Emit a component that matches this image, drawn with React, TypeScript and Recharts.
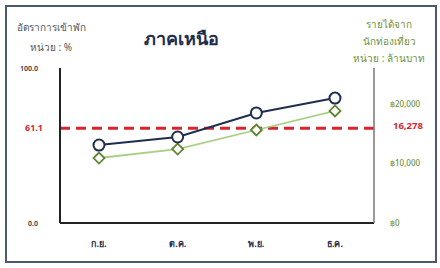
import React from "react";
import {
  ComposedChart,
  Line,
  XAxis,
  YAxis,
  ReferenceLine,
} from "recharts";

const months = ["ก.ย.", "ต.ค.", "พ.ย.", "ธ.ค."];
const occupancy = [50.3, 55.5, 71.0, 80.6];
const revenue = [10900, 12400, 15600, 18800];
const occupancyAvg = 61.1;
const revenueAvg = 16278;
const leftTicks = [0, occupancyAvg, 100];
const rightTicks = [0, 10000, revenueAvg, 20000];

const data = months.map((m, i) => ({ month: m, occ: occupancy[i], rev: revenue[i] }));

const NAVY = "#1f2d4e";
const GREEN_LINE = "#a9cf85";
const GREEN_DARK = "#5e8430";
const GREEN_TEXT = "#6f9140";
const RED = "#d8262f";
const FONT = "'Noto Sans', 'Open Sans', sans-serif";

const LeftTick = (props: any) => {
  const { x, y, payload } = props;
  const isAvg = payload.value === occupancyAvg;
  return (
    <text
      x={x - (isAvg ? 9 : 14)}
      y={y}
      dy={3}
      textAnchor="end"
      fontSize={isAvg ? 9 : 7}
      fontWeight={isAvg ? 700 : 600}
      fill={isAvg ? RED : "#333"}
      fontFamily={FONT}
    >
      {payload.value.toFixed(1)}
    </text>
  );
};

const RightTick = (props: any) => {
  const { x, y, payload } = props;
  const isAvg = payload.value === revenueAvg;
  return (
    <text
      x={x + (isAvg ? 11 : 8)}
      y={y}
      dy={3}
      textAnchor="start"
      fontSize={isAvg ? 9.5 : 8}
      fontWeight={isAvg ? 700 : 500}
      fill={isAvg ? RED : GREEN_TEXT}
      fontFamily={FONT}
    >
      {isAvg ? payload.value.toLocaleString("en-US") : `฿${payload.value.toLocaleString("en-US")}`}
    </text>
  );
};

const MonthTick = (props: any) => {
  const { x, y, payload } = props;
  return (
    <text x={x} y={y} dy={16} textAnchor="middle" fontSize={9} fontWeight={700} fill={NAVY} fontFamily={FONT}>
      {payload.value}
    </text>
  );
};

const Diamond = (props: any) => {
  const { cx, cy } = props;
  if (cx == null || cy == null) return null;
  const s = 5.5;
  return (
    <path
      d={`M${cx},${cy - s} L${cx + s},${cy} L${cx},${cy + s} L${cx - s},${cy} Z`}
      fill="#fff"
      stroke={GREEN_DARK}
      strokeWidth={1.8}
    />
  );
};

export default function App() {
  return (
    <div style={{ position: "absolute", left: 0, top: 0, width: 440, height: 268, background: "#fff", fontFamily: FONT }}>
      <div
        style={{
          position: "absolute",
          left: 5,
          top: 5,
          width: 428,
          height: 254,
          border: "2px solid #4b5a70",
          boxSizing: "content-box",
        }}
      />
      <div style={{ position: "absolute", left: 0, top: 0 }}>
        <ComposedChart width={440} height={268} data={data} margin={{ top: 68, right: 0, bottom: 0, left: 0 }}>
          <XAxis
            dataKey="month"
            height={45}
            padding={{ left: 39, right: 39 }}
            tick={<MonthTick />}
            tickLine={false}
            axisLine={{ stroke: "#222", strokeWidth: 2 }}
          />
          <YAxis
            yAxisId="left"
            orientation="left"
            width={60}
            domain={[0, 100]}
            ticks={leftTicks}
            interval={0}
            tick={<LeftTick />}
            tickLine={false}
            axisLine={{ stroke: "#222", strokeWidth: 2 }}
          />
          <YAxis
            yAxisId="right"
            orientation="right"
            width={66}
            domain={[0, 26000]}
            ticks={rightTicks}
            interval={0}
            tick={<RightTick />}
            tickLine={false}
            axisLine={{ stroke: "#777", strokeWidth: 1.5 }}
          />
          <ReferenceLine
            yAxisId="left"
            y={occupancyAvg}
            stroke={RED}
            strokeWidth={3}
            strokeDasharray="10 6"
          />
          <Line
            yAxisId="right"
            dataKey="rev"
            stroke={GREEN_LINE}
            strokeWidth={1.8}
            dot={<Diamond />}
            isAnimationActive={false}
          />
          <Line
            yAxisId="left"
            dataKey="occ"
            stroke={NAVY}
            strokeWidth={2}
            dot={{ r: 5.5, fill: "#fff", stroke: NAVY, strokeWidth: 2 }}
            isAnimationActive={false}
          />
        </ComposedChart>
      </div>
      <div style={{ position: "absolute", left: 8, top: 17, width: 86, textAlign: "center", fontSize: 10, color: "#555", lineHeight: "20px" }}>
        <div>อัตราการเข้าพัก</div>
        <div>หน่วย : %</div>
      </div>
      <div style={{ position: "absolute", left: 130, top: 24, width: 102, textAlign: "center", fontSize: 18, fontWeight: 700, color: NAVY }}>
        ภาคเหนือ
      </div>
      <div style={{ position: "absolute", left: 339, top: 16, width: 100, textAlign: "center", fontSize: 10, color: GREEN_TEXT, lineHeight: "17px" }}>
        <div>รายได้จาก</div>
        <div>นักท่องเที่ยว</div>
        <div>หน่วย : ล้านบาท</div>
      </div>
    </div>
  );
}
